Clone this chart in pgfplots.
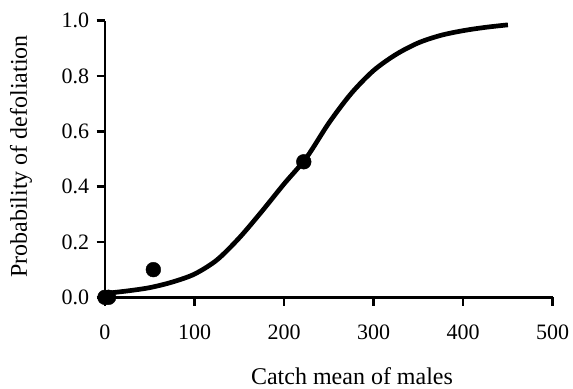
\documentclass[border=0pt]{standalone}
\usepackage{fontspec}
\setmainfont{Liberation Serif}
\usepackage{pgfplots}
\pgfplotsset{compat=1.18}
\begin{document}
\begin{tikzpicture}
\begin{axis}[
  at={(0,0)}, anchor=south west,
  scale only axis,
  width=447.7pt, height=276.6pt,
  xmin=0, xmax=500, ymin=0, ymax=1,
  axis lines=left,
  axis line style={line width=2.6pt, -},
  every tick/.style={line width=2.6pt, black},
  tick align=outside,
  major tick length=8.3pt,
  xtick={0,100,...,500},
  ytick={0,0.2,...,1.0},
  clip=false,
  /pgf/number format/assume math mode=true,
  yticklabel={\pgfmathprintnumber[fixed,fixed zerofill,precision=1]{\tick}},
  tick label style={font=\fontsize{22}{24}\selectfont},
  xticklabel style={yshift=-16pt},
  yticklabel style={xshift=-4pt},
  xlabel={Catch mean of males},
  ylabel={Probability of defoliation},
  label style={font=\fontsize{24}{28}\selectfont},
  xlabel style={at={(axis description cs:0.5517,0)}, anchor=base, yshift=-87.5pt},
  ylabel style={at={(axis description cs:0,0.509)}, anchor=base, rotate=0, yshift=78pt},
]
\addplot[black, line width=4.7pt, smooth] coordinates {
(0,0.014) (25,0.023) (50,0.035) (75,0.055) (100,0.084) (125,0.135)
(150,0.215) (175,0.31) (200,0.41) (225,0.505) (250,0.63) (275,0.737)
(300,0.82) (325,0.878) (350,0.92) (375,0.947) (400,0.964) (425,0.976)
(450,0.985)
};
\addplot[only marks, mark=*, mark size=7.4pt, black] coordinates {
(0,0) (4,0) (54,0.1) (222,0.49)
};
\end{axis}
\path[use as bounding box] (-105pt,-89.7pt) rectangle (468pt,297.3pt);
\end{tikzpicture}
\end{document}
